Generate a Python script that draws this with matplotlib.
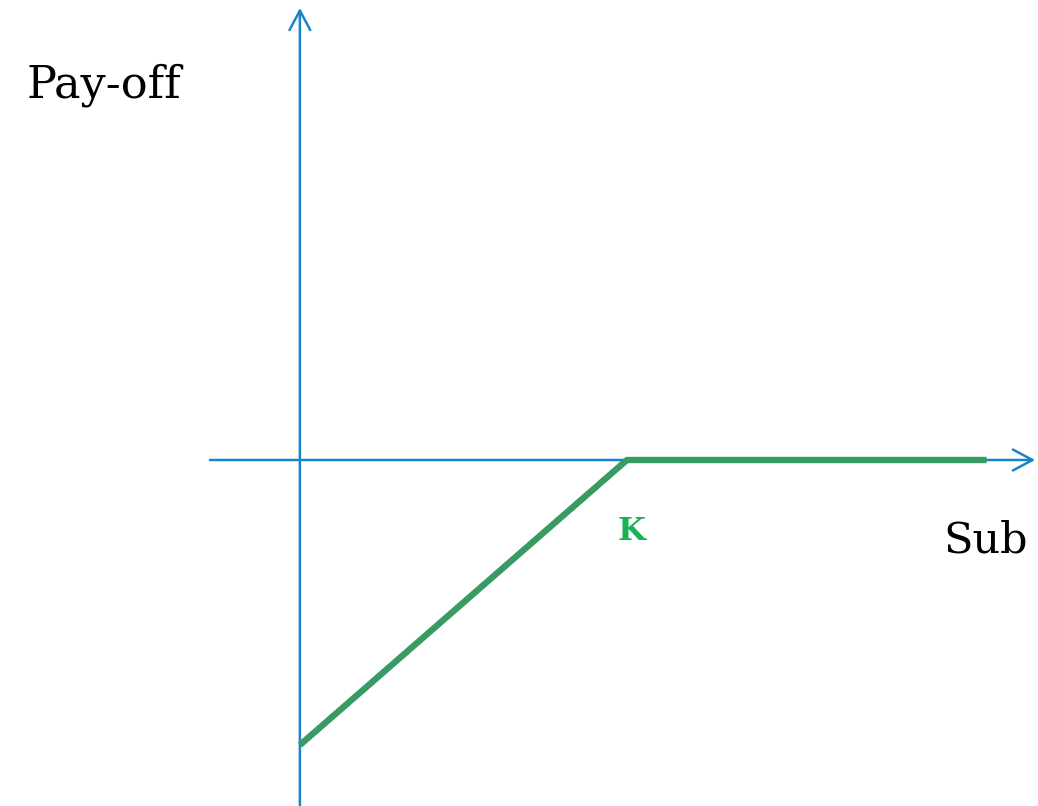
import matplotlib
matplotlib.use("Agg")
import matplotlib.pyplot as plt

# Data: short put pay-off
strike = 100.0
spot = [0.0, strike, 210.0]
payoff = [-strike, 0.0, 0.0]
x_axis_range = [-27.5, 224.8]
y_axis_range = [-121.4, 158.6]
x_label = "Sub"
y_label = "Pay-off"
strike_label = "K"

axis_color = "#1a84c7"
line_color = "#389b63"
k_color = "#1db157"

fig = plt.figure(figsize=(10.38, 8.06), dpi=100)
ax = fig.add_axes([0, 0, 1, 1])
ax.set_xlim(-91.7, 225.7)
ax.set_ylim(-121.4, 161.4)
ax.axis("off")

arrow = dict(arrowstyle="->,head_length=1.4,head_width=0.75",
             color=axis_color, lw=1.8, shrinkA=0, shrinkB=0)
ax.annotate("", xy=(x_axis_range[1], 0), xytext=(x_axis_range[0], 0),
            arrowprops=arrow)
ax.annotate("", xy=(0, y_axis_range[1]), xytext=(0, y_axis_range[0]),
            arrowprops=arrow)

ax.plot(spot, payoff, color=line_color, lw=4.6, solid_capstyle="butt", zorder=3)

ax.text(strike + 1.4, -28.1, strike_label, color=k_color, fontsize=23,
        fontweight="bold", family="DejaVu Serif", ha="center", va="baseline")
ax.text(-83.5, 127.3, y_label, fontsize=32, family="DejaVu Serif",
        ha="left", va="baseline")
ax.text(222.6, -32.3, x_label, fontsize=31, family="DejaVu Serif",
        ha="right", va="baseline")

fig.savefig("out.png", dpi=100)
